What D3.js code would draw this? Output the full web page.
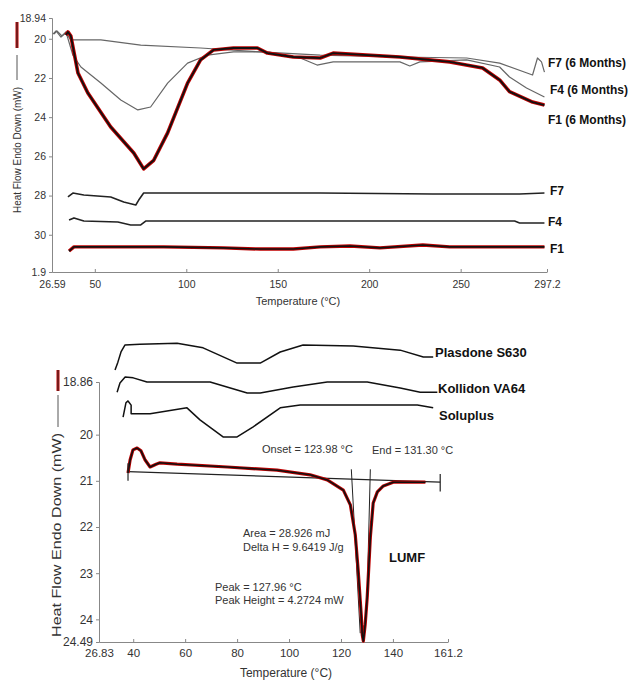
<!DOCTYPE html>
<meta charset="utf-8">
<title>DSC thermograms</title>
<body>
<script src="https://cdn.jsdelivr.net/npm/d3@7"></script>
<style>
html, body {
    margin: 0;
    background: #fff;
}
svg {
    display: block;
    font-family: "Liberation Sans", Arial, sans-serif;
}
.axis path, .axis line {
    stroke: #888;
}
.axis text {
    fill: #333;
}
.lbl {
    font-weight: bold;
    fill: #111;
}
.note {
    fill: #333;
    font-size: 11px;
}
</style>
<script>
// ---- top chart: F1/F4/F7 fresh and after 6 months ----
var topXTicks = [26.59, 50, 100, 150, 200, 250, 297.2],
    topXLabels = ["26.59", "50", "100", "150", "200", "250", "297.2"],
    topYTicks = [18.94, 20, 22, 24, 26, 28, 30, 31.9],
    topYLabels = ["18.94", "20", "22", "24", "26", "28", "30", "1.9"];

var f1m6T = [34.2, 35.3, 36.9, 40.8, 46.2, 58.7, 71.3, 76.7, 82.2, 89.8, 100.7, 107.8, 114.9, 125.8, 138.9, 144.3, 158.5, 173.2, 180.3, 216.8, 244.0, 262.0, 271.3, 276.7, 289.3, 295.8],
    f1m6V = [19.81, 19.65, 19.86, 21.75, 22.77, 24.5, 25.83, 26.64, 26.2, 24.8, 22.26, 21.08, 20.57, 20.47, 20.47, 20.73, 20.93, 20.98, 20.73, 20.93, 21.18, 21.49, 22.1, 22.7, 23.23, 23.38];
var f4m6T = [27.1, 28.8, 31.5, 34.2, 38.0, 42.4, 53.3, 64.2, 73.5, 80.5, 89.8, 100.7, 111.6, 125.8, 144.3, 162.3, 171.5, 180.3, 216.8, 222.2, 227.7, 253.3, 271.3, 276.7, 286.0, 295.8],
    f4m6V = [19.76, 19.6, 19.91, 19.65, 20.83, 21.44, 22.26, 23.12, 23.63, 23.48, 22.26, 21.24, 20.83, 20.67, 20.67, 20.98, 21.34, 21.18, 21.18, 21.39, 21.18, 21.08, 21.44, 21.95, 22.51, 22.97];
var f7m6T = [27.7, 29.3, 32.0, 34.2, 36.9, 53.3, 75.1, 107.8, 140.5, 173.2, 216.8, 253.3, 271.3, 289.3, 292.0, 294.2, 295.8],
    f7m6V = [19.76, 19.6, 19.86, 19.71, 20.06, 20.06, 20.32, 20.47, 20.67, 20.83, 20.93, 20.98, 21.24, 21.85, 20.98, 21.18, 21.7];
var f7T = [35.3, 38.0, 44.0, 58.7, 65.8, 72.4, 74.0, 76.7, 89.8, 173.2, 234.8, 282.2, 295.8],
    f7V = [28.07, 27.87, 27.97, 28.07, 28.33, 28.48, 28.23, 27.87, 27.87, 27.87, 27.92, 27.92, 27.87];
var f4T = [35.9, 38.6, 44.0, 62.6, 69.6, 75.1, 77.8, 173.2, 279.5, 282.2, 295.8],
    f4V = [29.25, 29.14, 29.3, 29.35, 29.5, 29.5, 29.3, 29.3, 29.3, 29.4, 29.4];
var f1T = [35.9, 38.6, 87.6, 120.3, 140.5, 158.5, 173.2, 189.5, 205.9, 229.3, 244.0, 295.8],
    f1V = [30.83, 30.62, 30.62, 30.67, 30.73, 30.73, 30.62, 30.57, 30.67, 30.52, 30.62, 30.62];

// ---- bottom chart: polymers and LUMF ----
var botXTicks = [26.83, 40, 60, 80, 100, 120, 140, 161.2],
    botXLabels = ["26.83", "40", "60", "80", "100", "120", "140", "161.2"],
    botYTicks = [18.86, 20, 21, 22, 23, 24, 24.49],
    botYLabels = ["18.86", "20", "21", "22", "23", "24", "24.49"];

var plasT = [33.0, 34.1, 35.3, 36.8, 42.6, 56.9, 66.9, 80.0, 88.9, 96.6, 105.4, 124.7, 142.8, 151.7, 155.5],
    plasV = [18.6, 18.43, 18.21, 18.06, 18.04, 18.02, 18.12, 18.45, 18.45, 18.21, 18.06, 18.08, 18.17, 18.32, 18.32];
var kollT = [33.8, 34.9, 36.9, 40.0, 45.3, 69.6, 83.9, 88.9, 101.6, 114.7, 130.1, 142.8, 150.5, 157.1],
    kollV = [19.08, 18.88, 18.75, 18.77, 18.86, 18.86, 19.1, 19.1, 18.97, 18.86, 18.86, 18.99, 19.08, 19.08];
var soluT = [36.1, 37.2, 38.0, 39.2, 39.2, 46.5, 60.7, 65.7, 74.6, 80.0, 86.2, 96.6, 104.3, 149.4, 155.5],
    soluV = [19.62, 19.31, 19.27, 19.36, 19.55, 19.55, 19.42, 19.68, 20.05, 20.05, 19.83, 19.42, 19.36, 19.36, 19.42];
var lumfT = [38.0, 38.8, 39.9, 41.5, 43.0, 44.6, 46.5, 48.8, 50.3, 56.9, 76.2, 95.4, 108.1, 114.7, 120.9, 123.6, 125.5, 126.6, 127.8, 128.2, 128.6, 129.3, 130.1, 131.3, 132.4, 134.0, 136.3, 140.1, 149.4, 152.5],
    lumfV = [20.83, 20.55, 20.33, 20.29, 20.35, 20.55, 20.7, 20.64, 20.61, 20.64, 20.7, 20.77, 20.87, 20.98, 21.2, 21.52, 22.17, 22.93, 23.91, 24.34, 24.47, 24.12, 23.52, 22.22, 21.48, 21.24, 21.11, 21.03, 21.03, 21.03];
var baseT = [38.0, 158.2],
    baseV = [20.8, 21.03];
var onsetT = [123.98, 127.4],
    onsetV = [20.75, 24.3];
var endT = [131.3, 130.2],
    endV = [20.75, 23.2];

function pts(ts, vs) {
    return ts.map(function(t, i) { return [t, vs[i]]; });
}

var svg = d3.select("body").append("svg")
    .attr("width", 631)
    .attr("height", 680);

// ================= top =================
var x1 = d3.scaleLinear().domain([26.59, 297.2]).range([52, 547]),
    y1 = d3.scaleLinear().domain([18.94, 31.9]).range([18, 272]);
var line1 = d3.line().x(function(d) { return x1(d[0]); }).y(function(d) { return y1(d[1]); });

var gTop = svg.append("g");

gTop.append("g").attr("class", "axis")
    .attr("transform", "translate(0,272)")
    .call(d3.axisBottom(x1).tickValues(topXTicks).tickSizeInner(-3).tickSizeOuter(0)
        .tickFormat(function(d, i) { return topXLabels[i]; }))
    .call(function(g) { g.selectAll("text").attr("font-size", 10.5).attr("dy", "1.2em"); });

gTop.append("g").attr("class", "axis")
    .attr("transform", "translate(52,0)")
    .call(d3.axisLeft(y1).tickValues(topYTicks).tickSize(3)
        .tickFormat(function(d, i) { return topYLabels[i]; }))
    .call(function(g) { g.selectAll("text").attr("font-size", 10.5); });

function trace(g, line, data, color, width) {
    g.append("path").datum(data)
        .attr("fill", "none")
        .attr("stroke", color)
        .attr("stroke-width", width)
        .attr("stroke-linejoin", "round")
        .attr("d", line);
}

trace(gTop, line1, pts(f7m6T, f7m6V), "#666", 1.2);
trace(gTop, line1, pts(f4m6T, f4m6V), "#666", 1.2);
trace(gTop, line1, pts(f1m6T, f1m6V), "#c00000", 3.6);
trace(gTop, line1, pts(f1m6T, f1m6V), "#111", 1.8);
trace(gTop, line1, pts(f7T, f7V), "#222", 1.6);
trace(gTop, line1, pts(f4T, f4V), "#222", 1.6);
trace(gTop, line1, pts(f1T, f1V), "#c00000", 3.4);
trace(gTop, line1, pts(f1T, f1V), "#111", 1.6);

var topLabels = [["F7 (6 Months)", 548, 63], ["F4 (6 Months)", 550, 90], ["F1 (6 Months)", 548, 120],
                 ["F7", 550, 191], ["F4", 548, 222], ["F1", 550, 249]];
gTop.selectAll(".lbl").data(topLabels).enter().append("text")
    .attr("class", "lbl")
    .attr("font-size", 12)
    .attr("x", function(d) { return d[1]; })
    .attr("y", function(d) { return d[2]; })
    .attr("dy", "0.35em")
    .text(function(d) { return d[0]; });

gTop.append("text")
    .attr("font-size", 11).attr("fill", "#333")
    .attr("text-anchor", "middle")
    .attr("x", 298).attr("y", 305)
    .text("Temperature (°C)");

// y title with legend marks
gTop.append("line").attr("x1", 17).attr("x2", 17).attr("y1", 22).attr("y2", 48)
    .attr("stroke", "#c00000").attr("stroke-width", 3);
gTop.append("line").attr("x1", 17).attr("x2", 17).attr("y1", 22).attr("y2", 48)
    .attr("stroke", "#333").attr("stroke-width", 1);
gTop.append("line").attr("x1", 17).attr("x2", 17).attr("y1", 55).attr("y2", 80)
    .attr("stroke", "#555").attr("stroke-width", 1);
gTop.append("text")
    .attr("font-size", 11).attr("fill", "#333")
    .attr("text-anchor", "middle")
    .attr("transform", "translate(21,150) rotate(-90)")
    .attr("textLength", 126).attr("lengthAdjust", "spacingAndGlyphs")
    .text("Heat Flow Endo Down (mW)");

// ================= bottom =================
var x2 = d3.scaleLinear().domain([26.83, 161.2]).range([99, 448]),
    y2 = d3.scaleLinear().domain([18.86, 24.49]).range([382, 642]);
var line2 = d3.line().x(function(d) { return x2(d[0]); }).y(function(d) { return y2(d[1]); });

var gBot = svg.append("g");

gBot.append("g").attr("class", "axis")
    .attr("transform", "translate(0,642)")
    .call(d3.axisBottom(x2).tickValues(botXTicks).tickSizeInner(-3).tickSizeOuter(0)
        .tickFormat(function(d, i) { return botXLabels[i]; }))
    .call(function(g) { g.selectAll("text").attr("font-size", 11.5).attr("dy", "1em"); });

gBot.append("g").attr("class", "axis")
    .attr("transform", "translate(99,0)")
    .call(d3.axisLeft(y2).tickValues(botYTicks).tickSize(3)
        .tickFormat(function(d, i) { return botYLabels[i]; }))
    .call(function(g) { g.selectAll("text").attr("font-size", 12); });

trace(gBot, line2, pts(plasT, plasV), "#111", 1.5);
trace(gBot, line2, pts(kollT, kollV), "#111", 1.5);
trace(gBot, line2, pts(soluT, soluV), "#111", 1.5);
trace(gBot, line2, pts(baseT, baseV), "#222", 1.2);
trace(gBot, line2, pts(onsetT, onsetV), "#222", 1);
trace(gBot, line2, pts(endT, endV), "#222", 1);
trace(gBot, line2, pts(lumfT, lumfV), "#c00000", 3.2);
trace(gBot, line2, pts(lumfT, lumfV), "#111", 1.6);

// end marks of the baseline
baseT.forEach(function(t, i) {
    gBot.append("line")
        .attr("x1", x2(t)).attr("x2", x2(t))
        .attr("y1", y2(baseV[i] - 0.18)).attr("y2", y2(baseV[i] + 0.2))
        .attr("stroke", "#222").attr("stroke-width", 1.2);
});

var botLabels = [["Plasdone S630", 435, 352], ["Kollidon VA64", 438, 388], ["Soluplus", 439, 415], ["LUMF", 389, 557]];
gBot.selectAll(".lbl").data(botLabels).enter().append("text")
    .attr("class", "lbl")
    .attr("font-size", 13)
    .attr("x", function(d) { return d[1]; })
    .attr("y", function(d) { return d[2]; })
    .attr("dy", "0.35em")
    .text(function(d) { return d[0]; });

var notes = [["Onset = 123.98 °C", 262, 449], ["End = 131.30 °C", 372, 450],
             ["Area = 28.926 mJ", 243, 533], ["Delta H = 9.6419 J/g", 243, 547],
             ["Peak = 127.96 °C", 215, 587], ["Peak Height = 4.2724 mW", 215, 600]];
gBot.selectAll(".note").data(notes).enter().append("text")
    .attr("class", "note")
    .attr("x", function(d) { return d[1]; })
    .attr("y", function(d) { return d[2]; })
    .attr("dy", "0.35em")
    .text(function(d) { return d[0]; });

gBot.append("text")
    .attr("font-size", 12).attr("fill", "#333")
    .attr("text-anchor", "middle")
    .attr("x", 286).attr("y", 677)
    .text("Temperature (°C)");

gBot.append("line").attr("x1", 58).attr("x2", 58).attr("y1", 370).attr("y2", 391)
    .attr("stroke", "#c00000").attr("stroke-width", 3);
gBot.append("line").attr("x1", 58).attr("x2", 58).attr("y1", 370).attr("y2", 391)
    .attr("stroke", "#333").attr("stroke-width", 1);
gBot.append("line").attr("x1", 58).attr("x2", 58).attr("y1", 395).attr("y2", 427)
    .attr("stroke", "#555").attr("stroke-width", 1);
gBot.append("text")
    .attr("font-size", 12).attr("fill", "#333")
    .attr("text-anchor", "middle")
    .attr("transform", "translate(61,535) rotate(-90)")
    .attr("textLength", 204).attr("lengthAdjust", "spacingAndGlyphs")
    .text("Heat Flow Endo Down (mW)");
</script>
